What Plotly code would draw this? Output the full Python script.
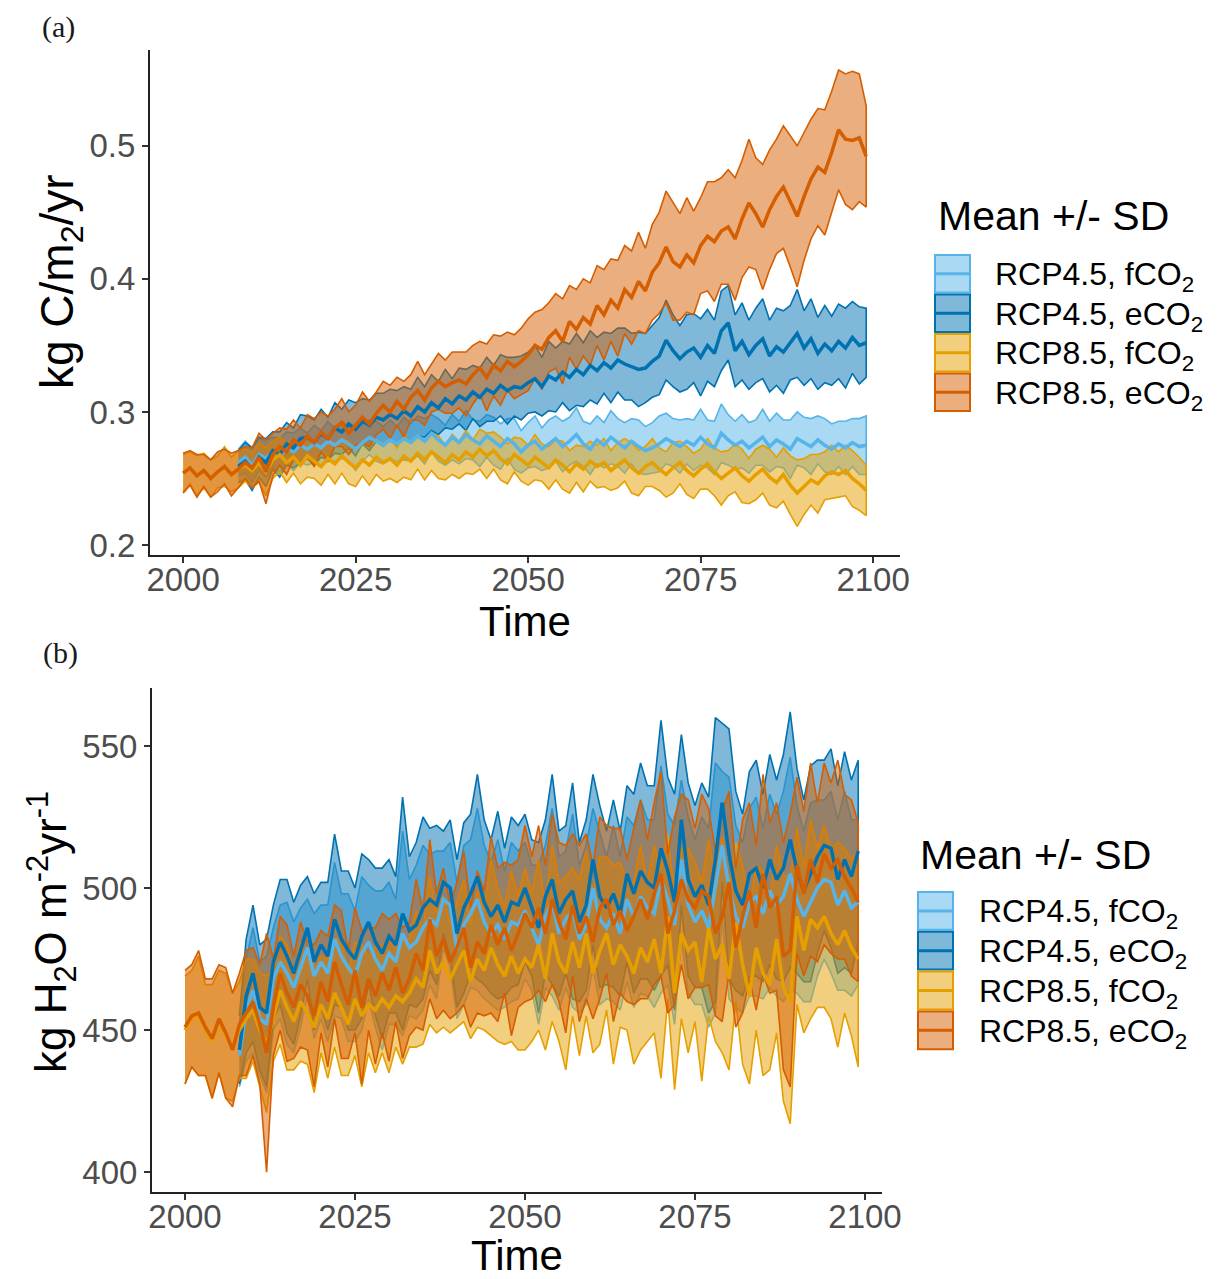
import plotly.graph_objects as go

# Okabe-Ito style palette used in the figure
COLORS = ['#56B4E9', '#0072B2', '#E69F00', '#D55E00']
FILLS = ['rgba(86,180,233,0.5)', 'rgba(0,114,178,0.5)',
         'rgba(230,159,0,0.5)', 'rgba(213,94,0,0.5)']
FONT = 'Liberation Sans'

SERIES = ['RCP4.5, fCO<sub>2</sub>', 'RCP4.5, eCO<sub>2</sub>',
          'RCP8.5, fCO<sub>2</sub>', 'RCP8.5, eCO<sub>2</sub>']

YEARS_85 = list(range(2000, 2100))
YEARS_45 = list(range(2008, 2100))

X_TICKS = [2000, 2025, 2050, 2075, 2100]
A_TICKS = [0.2, 0.3, 0.4, 0.5]
B_TICKS = [400, 450, 500, 550]

# ---- panel (a): kg C/m2/yr ----
A_45F_MEAN = [0.262, 0.266,
              0.260, 0.268, 0.265, 0.270, 0.267, 0.273, 0.270, 0.275, 0.272, 0.276,
              0.273, 0.278, 0.275, 0.279, 0.276, 0.272, 0.277, 0.281, 0.278, 0.275,
              0.279, 0.276, 0.280, 0.277, 0.282, 0.278, 0.284, 0.279, 0.275, 0.281,
              0.277, 0.283, 0.279, 0.276, 0.282, 0.278, 0.274, 0.280, 0.276, 0.270,
              0.275, 0.278, 0.272, 0.276, 0.280, 0.274, 0.278, 0.283, 0.276, 0.272,
              0.279, 0.275, 0.281, 0.277, 0.273, 0.278, 0.274, 0.271, 0.273, 0.276,
              0.280, 0.277, 0.274, 0.278, 0.275, 0.281, 0.276, 0.273, 0.284, 0.279,
              0.275, 0.278, 0.273, 0.277, 0.281, 0.274, 0.279, 0.276, 0.272, 0.280,
              0.277, 0.274, 0.279, 0.275, 0.272, 0.276, 0.273, 0.277, 0.274, 0.275]
A_45F_SD = [.010, .012,
            .013, .012, .014, .011, .013, .012, .014, .013, .012, .014,
            .013, .015, .012, .014, .013, .016, .014, .013, .015, .014,
            .015, .013, .016, .014, .015, .017, .014, .016, .015, .017,
            .016, .018, .015, .017, .016, .018, .017, .015, .019, .016,
            .017, .019, .016, .018, .017, .019, .018, .020, .017, .019,
            .018, .017, .020, .018, .019, .017, .020, .018, .019, .021,
            .019, .018, .020, .017, .019, .021, .018, .020, .022, .019,
            .018, .020, .019, .017, .021, .019, .020, .018, .022, .020,
            .019, .021, .018, .020, .019, .017, .020, .018, .021, .022]

A_45E_MEAN = [0.259, 0.263,
              0.257, 0.266, 0.262, 0.271, 0.268, 0.276, 0.273, 0.280, 0.281, 0.277,
              0.284, 0.280, 0.288, 0.285, 0.291, 0.287, 0.293, 0.290, 0.296, 0.294,
              0.298, 0.295, 0.301, 0.297, 0.304, 0.300, 0.307, 0.303, 0.310, 0.306,
              0.312, 0.309, 0.315, 0.311, 0.317, 0.314, 0.320, 0.316, 0.319, 0.318,
              0.322, 0.325, 0.319, 0.327, 0.324, 0.330, 0.326, 0.332, 0.328, 0.335,
              0.331, 0.337, 0.333, 0.339, 0.336, 0.334, 0.332, 0.333, 0.338, 0.342,
              0.354, 0.346, 0.340, 0.345, 0.348, 0.341, 0.350, 0.344, 0.361, 0.367,
              0.346, 0.353, 0.343, 0.350, 0.355, 0.342, 0.349, 0.345, 0.352, 0.359,
              0.348, 0.355, 0.344, 0.351, 0.346, 0.353, 0.348, 0.356, 0.350, 0.352]
A_45E_SD = [.012, .014,
            .016, .015, .018, .014, .017, .016, .015, .018, .016, .017,
            .018, .016, .019, .017, .018, .020, .017, .019, .018, .020,
            .019, .021, .018, .020, .022, .019, .021, .020, .022, .019,
            .021, .023, .020, .022, .024, .021, .023, .025, .022, .024,
            .023, .025, .022, .026, .024, .023, .025, .027, .024, .026,
            .025, .023, .026, .024, .027, .025, .028, .026, .027, .029,
            .030, .027, .025, .028, .026, .029, .027, .025, .030, .028,
            .027, .029, .026, .028, .030, .027, .029, .031, .028, .033,
            .028, .030, .027, .029, .026, .028, .030, .027, .029, .026]

A_85F_MEAN = [0.254, 0.258, 0.252, 0.256, 0.250, 0.255, 0.259, 0.253, 0.257, 0.260,
              0.256, 0.262, 0.255, 0.264, 0.268, 0.262, 0.266, 0.260, 0.267, 0.263,
              0.259, 0.265, 0.261, 0.267, 0.262, 0.258, 0.264, 0.260, 0.266, 0.262,
              0.265, 0.260, 0.267, 0.263, 0.269, 0.264, 0.270, 0.266, 0.262, 0.268,
              0.264, 0.270, 0.266, 0.272, 0.267, 0.271, 0.265, 0.261, 0.268, 0.264,
              0.260, 0.266, 0.262, 0.258, 0.264, 0.260, 0.255, 0.261, 0.257, 0.263,
              0.259, 0.262, 0.256, 0.260, 0.264, 0.258, 0.254, 0.259, 0.262, 0.257,
              0.253, 0.258, 0.262, 0.256, 0.252, 0.257, 0.261, 0.255, 0.250, 0.254,
              0.258, 0.252, 0.248, 0.253, 0.257, 0.251, 0.247, 0.253, 0.245, 0.239,
              0.244, 0.249, 0.246, 0.252, 0.255, 0.253, 0.256, 0.250, 0.246, 0.241]
A_85F_SD = [.014, .012, .015, .013, .014, .012, .015, .013, .014, .012,
            .013, .015, .018, .014, .013, .015, .012, .014, .016, .013,
            .014, .012, .015, .013, .016, .014, .012, .015, .013, .014,
            .015, .013, .016, .014, .012, .015, .014, .016, .013, .015,
            .014, .016, .013, .015, .017, .014, .016, .015, .013, .016,
            .015, .017, .014, .016, .015, .018, .016, .014, .017, .015,
            .016, .018, .015, .017, .016, .019, .017, .015, .018, .016,
            .017, .019, .016, .018, .017, .015, .019, .018, .020, .017,
            .018, .020, .017, .019, .018, .021, .019, .020, .022, .025,
            .021, .019, .022, .018, .020, .017, .019, .021, .020, .019]

A_85E_MEAN = [0.254, 0.258, 0.252, 0.256, 0.250, 0.255, 0.259, 0.253, 0.257, 0.262,
              0.258, 0.266, 0.255, 0.268, 0.274, 0.270, 0.279, 0.275, 0.282, 0.277,
              0.285, 0.280, 0.288, 0.292, 0.284, 0.290, 0.296, 0.291, 0.299, 0.305,
              0.300, 0.308, 0.302, 0.311, 0.316, 0.309, 0.318, 0.323, 0.319, 0.322,
              0.324, 0.321, 0.328, 0.333, 0.326, 0.335, 0.331, 0.338, 0.334, 0.338,
              0.343, 0.350, 0.347, 0.356, 0.361, 0.353, 0.368, 0.362, 0.371, 0.366,
              0.380, 0.373, 0.384, 0.378, 0.392, 0.386, 0.398, 0.391, 0.405, 0.412,
              0.424, 0.413, 0.409, 0.418, 0.412, 0.425, 0.432, 0.428, 0.436, 0.439,
              0.430, 0.445, 0.457, 0.449, 0.439, 0.452, 0.462, 0.469, 0.458, 0.447,
              0.462, 0.475, 0.484, 0.480, 0.495, 0.512, 0.505, 0.504, 0.506, 0.492]
A_85E_SD = [.015, .013, .016, .012, .014, .015, .013, .016, .014, .012,
            .015, .018, .024, .016, .014, .017, .015, .013, .016, .018,
            .015, .017, .014, .018, .016, .015, .019, .017, .016, .018,
            .020, .018, .021, .017, .022, .019, .018, .021, .020, .023,
            .021, .024, .022, .020, .025, .023, .026, .022, .024, .025,
            .027, .025, .030, .026, .028, .032, .027, .030, .029, .031,
            .030, .034, .031, .036, .033, .035, .037, .032, .036, .038,
            .042, .044, .040, .043, .039, .036, .041, .045, .040, .043,
            .046, .044, .048, .042, .047, .045, .043, .046, .049, .053,
            .048, .045, .044, .047, .046, .045, .049, .052, .048, .038]

# ---- panel (b): kg H2O m-2 yr-1 ----
B_45F_MEAN = [441, 457,
              464, 454, 452, 468, 474, 470, 465, 472, 479, 469,
              474, 470, 482, 476, 472, 469, 477, 481, 475, 471,
              477, 474, 484, 479, 481, 486, 489, 487, 496, 494,
              478, 487, 491, 496, 488, 484, 487, 482, 488, 487,
              492, 486, 480, 490, 495, 484, 489, 492, 482, 487,
              500, 489, 486, 491, 484, 496, 490, 497, 493, 491,
              503, 496, 487, 510, 494, 488, 492, 486, 500, 515,
              500, 490, 486, 495, 497, 491, 499, 494, 497, 505,
              496, 490, 495, 500, 503, 502, 494, 499, 493, 495]
B_45F_SD = [11, 18,
            22, 20, 24, 18, 20, 25, 23, 21, 17, 22,
            20, 24, 27, 22, 26, 23, 27, 20, 24, 28,
            25, 22, 36, 24, 27, 29, 23, 26, 17, 22,
            24, 28, 26, 32, 27, 25, 30, 24, 28, 26,
            24, 22, 28, 25, 33, 27, 24, 34, 26, 28,
            28, 30, 25, 31, 27, 29, 32, 34, 31, 33,
            40, 30, 35, 28, 31, 29, 33, 35, 44, 26,
            39, 32, 30, 33, 35, 30, 34, 32, 37, 41,
            33, 30, 35, 31, 28, 32, 30, 35, 31, 29]

B_45E_MEAN = [443, 462,
              470, 458, 456, 474, 481, 476, 470, 478, 486, 474,
              480, 476, 489, 482, 478, 475, 483, 488, 481, 477,
              483, 480, 491, 485, 487, 493, 496, 494, 502, 500,
              484, 493, 498, 504, 495, 490, 494, 488, 495, 494,
              500, 493, 486, 497, 503, 491, 496, 499, 488, 494,
              510, 497, 493, 498, 491, 505, 498, 506, 502, 500,
              514, 506, 495, 524, 503, 497, 501, 494, 510, 530,
              512, 499, 494, 505, 507, 500, 510, 503, 507, 517,
              506, 499, 505, 511, 515, 514, 503, 510, 504, 513]
B_45E_SD = [12, 20,
            24, 22, 26, 20, 22, 27, 25, 23, 18, 24,
            22, 26, 30, 24, 28, 25, 29, 22, 26, 30,
            27, 24, 41, 26, 29, 32, 25, 28, 18, 24,
            26, 30, 28, 36, 29, 27, 33, 26, 30, 28,
            26, 24, 30, 27, 37, 29, 26, 38, 28, 30,
            30, 32, 27, 33, 29, 31, 35, 38, 34, 36,
            45, 33, 38, 30, 34, 32, 36, 38, 50, 28,
            44, 35, 32, 36, 38, 33, 37, 35, 40, 45,
            36, 32, 38, 34, 30, 35, 33, 38, 34, 32]

B_85F_MEAN = [450, 454, 455, 450, 446, 453, 448, 444, 450, 454,
              457, 450, 445, 455, 464, 458, 453, 460, 456, 451,
              459, 454, 463, 458, 452, 461, 455, 459, 457, 461,
              458, 462, 460, 463, 468, 465, 478, 470, 474, 468,
              473, 478, 467, 475, 471, 479, 473, 469, 476, 470,
              475, 472, 480, 468, 484, 474, 470, 481, 472, 484,
              470, 478, 484, 473, 480, 476, 470, 479, 474, 482,
              470, 490, 463, 484, 478, 481, 467, 486, 475, 480,
              468, 488, 473, 462, 479, 470, 466, 482, 465, 460,
              490, 478, 489, 486, 490, 484, 480, 485, 479, 475]
B_85F_SD = [19, 17, 21, 16, 20, 18, 22, 19, 17, 21,
            18, 20, 24, 16, 19, 22, 17, 21, 18, 23,
            17, 21, 19, 24, 18, 20, 25, 17, 22, 19,
            23, 18, 22, 19, 24, 20, 26, 21, 23, 19,
            22, 25, 20, 24, 21, 31, 27, 24, 30, 27,
            32, 26, 30, 25, 31, 28, 34, 26, 31, 29,
            28, 33, 27, 35, 29, 26, 32, 36, 28, 33,
            37, 29, 34, 30, 36, 28, 35, 31, 29, 38,
            32, 28, 35, 31, 29, 36, 30, 33, 40, 43,
            31, 29, 35, 28, 32, 30, 36, 29, 31, 38]

B_85E_MEAN = [451, 455, 456, 451, 447, 454, 449, 443, 452, 456,
              460, 452, 442, 458, 470, 463, 458, 466, 462, 455,
              467, 460, 474, 466, 459, 471, 458, 468, 462, 470,
              464, 472, 463, 468, 477, 471, 489, 476, 482, 474,
              479, 486, 472, 481, 477, 487, 480, 486, 478, 484,
              491, 486, 493, 484, 496, 488, 482, 494, 484, 490,
              481, 493, 496, 487, 492, 485, 490, 496, 489, 498,
              505, 484, 492, 503, 496, 493, 499, 497, 484, 490,
              502, 479, 490, 499, 486, 505, 493, 497, 476, 478,
              508, 498, 510, 502, 512, 507, 510, 504, 500, 495]
B_85E_SD = [20, 18, 22, 17, 21, 19, 23, 20, 18, 22,
            19, 21, 42, 17, 20, 24, 18, 22, 19, 25,
            18, 23, 20, 26, 19, 22, 27, 18, 24, 21,
            25, 19, 23, 20, 26, 21, 28, 22, 25, 20,
            23, 27, 21, 25, 22, 31, 27, 23, 30, 26,
            31, 25, 29, 24, 30, 28, 33, 25, 31, 29,
            27, 32, 26, 34, 29, 25, 31, 35, 28, 32,
            36, 28, 33, 30, 35, 28, 34, 31, 29, 37,
            32, 28, 34, 31, 29, 35, 30, 33, 40, 48,
            31, 29, 34, 28, 32, 30, 35, 29, 31, 28]

PANEL_A = [(YEARS_45, A_45F_MEAN, A_45F_SD), (YEARS_45, A_45E_MEAN, A_45E_SD),
           (YEARS_85, A_85F_MEAN, A_85F_SD), (YEARS_85, A_85E_MEAN, A_85E_SD)]
PANEL_B = [(YEARS_45, B_45F_MEAN, B_45F_SD), (YEARS_45, B_45E_MEAN, B_45E_SD),
           (YEARS_85, B_85F_MEAN, B_85F_SD), (YEARS_85, B_85E_MEAN, B_85E_SD)]

# page body has an 8px margin, so the figure is 8px smaller than the window
OFFSET = 8
FIG_W, FIG_H = 1220 - OFFSET, 1279 - OFFSET


def px(x):
    """screen x (window pixels) -> paper x"""
    return (x - OFFSET) / FIG_W


def py(y):
    """screen y (window pixels, from top) -> paper y"""
    return 1 - (y - OFFSET) / FIG_H


def add_panel(fig, panel, xaxis, yaxis):
    # ribbons first (mean +/- sd), then the mean lines on top
    for i, (years, mean, sd) in enumerate(panel):
        upper = [m + s for m, s in zip(mean, sd)]
        lower = [m - s for m, s in zip(mean, sd)]
        fig.add_trace(go.Scatter(
            x=years + years[::-1], y=upper + lower[::-1],
            fill='toself', fillcolor=FILLS[i],
            line=dict(color=COLORS[i], width=1.6),
            mode='lines', name=SERIES[i], showlegend=False,
            xaxis=xaxis, yaxis=yaxis, hoverinfo='skip',
        ))
    for i, (years, mean, sd) in enumerate(panel):
        fig.add_trace(go.Scatter(
            x=years, y=mean, mode='lines',
            line=dict(color=COLORS[i], width=3.5),
            name=SERIES[i], showlegend=False,
            xaxis=xaxis, yaxis=yaxis,
        ))


def legend_items(key_x, row_top, row_h, text_x, title_x, title_y):
    """ggplot-like legend: filled key box with the mean line through it"""
    shapes, notes = [], []
    notes.append(dict(text='Mean +/- SD', x=px(title_x), y=py(title_y),
                      xref='paper', yref='paper', xanchor='left',
                      yanchor='middle', showarrow=False,
                      font=dict(family=FONT, size=41, color='black')))
    for i, name in enumerate(SERIES):
        top = row_top + i * row_h
        bot = top + row_h - 2
        mid = (top + bot) / 2
        shapes.append(dict(type='rect', xref='paper', yref='paper',
                           x0=px(key_x), x1=px(key_x + 35),
                           y0=py(bot), y1=py(top),
                           fillcolor=FILLS[i],
                           line=dict(color=COLORS[i], width=2)))
        shapes.append(dict(type='line', xref='paper', yref='paper',
                           x0=px(key_x), x1=px(key_x + 35),
                           y0=py(mid), y1=py(mid),
                           line=dict(color=COLORS[i], width=3)))
        notes.append(dict(text=name, x=px(text_x), y=py(mid + 3),
                          xref='paper', yref='paper', xanchor='left',
                          yanchor='middle', showarrow=False,
                          font=dict(family=FONT, size=32, color='black')))
    return shapes, notes


def axis_style(**kw):
    d = dict(showline=True, linecolor='#222222', linewidth=2,
             ticks='outside', ticklen=6, tickwidth=2, tickcolor='#333333',
             tickfont=dict(family=FONT, size=33, color='#4D4D4D'),
             showgrid=False, zeroline=False, automargin=False)
    d.update(kw)
    return d


fig = go.Figure()
add_panel(fig, PANEL_A, 'x', 'y')
add_panel(fig, PANEL_B, 'x2', 'y2')

shapes_a, notes_a = legend_items(935, 255, 39.5, 993, 936, 216)
shapes_b, notes_b = legend_items(918, 892, 39.8, 977, 918, 855)

x_title = dict(family=FONT, size=42, color='black')

labels = [
    dict(text='(a)', x=px(58), y=py(27), xref='paper', yref='paper',
         xanchor='center', yanchor='middle', showarrow=False,
         font=dict(family='Liberation Serif', size=30, color='#1a1a1a')),
    dict(text='(b)', x=px(60), y=py(653), xref='paper', yref='paper',
         xanchor='center', yanchor='middle', showarrow=False,
         font=dict(family='Liberation Serif', size=30, color='#1a1a1a')),
    # y-axis titles
    dict(text='kg C/m<sub>2</sub>/yr', x=px(60), y=py(282),
         xref='paper', yref='paper', xanchor='center', yanchor='middle',
         textangle=-90, showarrow=False,
         font=dict(family=FONT, size=46, color='black')),
    dict(text='kg H<sub>2</sub>O m<sup>-2</sup>yr<sup>-1</sup>', x=px(52),
         y=py(932), xref='paper', yref='paper', xanchor='center',
         yanchor='middle', textangle=-90, showarrow=False,
         font=dict(family=FONT, size=44, color='black')),
]

fig.update_layout(
    width=FIG_W, height=FIG_H,
    margin=dict(l=0, r=0, t=0, b=0),
    paper_bgcolor='white', plot_bgcolor='white',
    showlegend=False,
    xaxis=axis_style(domain=[px(150), px(900)], range=[1995.2, 2103.9],
                     tickvals=X_TICKS, anchor='y', ticklabelstandoff=-12,
                     title=dict(text='Time', font=x_title, standoff=8)),
    yaxis=axis_style(domain=[py(555), py(50)], range=[0.1925, 0.572],
                     tickvals=A_TICKS, tickformat='.1f', anchor='x'),
    xaxis2=axis_style(domain=[px(152), px(882)], range=[1995.15, 2102.5],
                      tickvals=X_TICKS, anchor='y2', ticklabelstandoff=-12,
                      title=dict(text='Time', font=x_title, standoff=8)),
    yaxis2=axis_style(domain=[py(1192), py(688)], range=[393.0, 570.4],
                      tickvals=B_TICKS, anchor='x2'),
    shapes=shapes_a + shapes_b,
    annotations=notes_a + notes_b + labels,
)

fig.write_html('out.html')
